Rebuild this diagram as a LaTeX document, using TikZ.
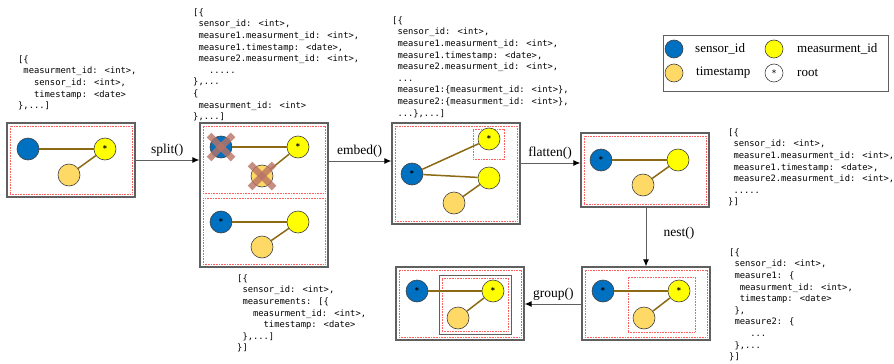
\documentclass[tikz,border=0pt]{standalone}
\usepackage{fontspec}
\setmainfont{Liberation Serif}
\newfontfamily\codefont{DejaVu Sans Mono}
\newfontfamily\starfont{DejaVu Sans}
\usetikzlibrary{arrows.meta}
\definecolor{sblue}{HTML}{0070C0}
\definecolor{myellow}{HTML}{FFFF00}
\definecolor{tsorange}{HTML}{FFD966}
\definecolor{edgebrown}{HTML}{8C6A14}
\definecolor{boxgray}{HTML}{606060}
\definecolor{crosscol}{RGB}{185,115,100}
\definecolor{dotred}{RGB}{255,95,95}
\newcommand{\ind}[1]{\hspace*{\dimexpr #1\fontcharwd\font`x\relax}}
\tikzset{
  x=1pt, y=-1pt,
  vtx/.style={circle, draw=black!75, line width=0.6pt, minimum size=22pt, inner sep=0pt,
              font=\starfont\bfseries\fontsize{8}{8}\selectfont},
  sen/.style={vtx, fill=sblue},
  mea/.style={vtx, fill=myellow},
  tst/.style={vtx, fill=tsorange},
  lgd/.style={circle, draw=black!75, line width=0.6pt, minimum size=18pt, inner sep=0pt,
              font=\starfont\fontsize{9}{9}\selectfont},
  outerbox/.style={draw=boxgray, line width=1.2pt, inner sep=0pt},
  reddot/.style={draw=dotred, dash pattern=on 0.8pt off 0.8pt, line width=1pt, inner sep=0pt},
  link/.style={draw=edgebrown, line width=1.5pt},
  flow/.style={draw=boxgray, line width=1pt, -{Latex[length=7pt,width=6pt,black]}},
  oplabel/.style={font=\fontsize{13.5}{13.5}\selectfont, inner sep=1pt},
  lgdtext/.style={font=\fontsize{13}{13}\selectfont, anchor=west, inner sep=0pt},
  code/.style={font=\codefont\fontsize{8.8}{11.6}\selectfont, align=left, anchor=north west, inner sep=0pt},
  crossx/.style={draw=crosscol, opacity=0.8, line width=6.5pt},
}
\begin{document}
\begin{tikzpicture}
\useasboundingbox (0,0) rectangle (894,364);

% ---------- Box 1 ----------
\node[outerbox, minimum width=128pt, minimum height=74pt] (b1) at (71,160) {};
\node[reddot, minimum width=122pt, minimum height=68pt] (r1) at (71,160) {};
\node[sen] (s1) at (28,149) {};
\node[mea] (m1) at (105,149) {*};
\node[tst] (t1) at (69,175) {};
\draw[link] (s1) -- (m1);
\draw[link] (t1) -- (m1);

% ---------- Box 2 ----------
\node[outerbox, minimum width=128pt, minimum height=144pt] (b2) at (264,195) {};
\node[reddot, minimum width=122pt, minimum height=67pt] (r2a) at (264,159.5) {};
\node[reddot, minimum width=122pt, minimum height=66pt] (r2b) at (264,231) {};
\node[sen] (s2a) at (221,147) {};
\node[mea] (m2a) at (298,147) {*};
\node[tst] (t2a) at (262,176) {};
\draw[link] (s2a) -- (m2a);
\draw[link] (t2a) -- (m2a);
\draw[crossx] ([shift={(-12,-12)}]s2a.center) -- ([shift={(12,12)}]s2a.center);
\draw[crossx] ([shift={(-12,12)}]s2a.center) -- ([shift={(12,-12)}]s2a.center);
\draw[crossx] ([shift={(-12,-12)}]t2a.center) -- ([shift={(12,12)}]t2a.center);
\draw[crossx] ([shift={(-12,12)}]t2a.center) -- ([shift={(12,-12)}]t2a.center);
\node[sen] (s2b) at (221,222) {*};
\node[mea] (m2b) at (298,222) {};
\node[tst] (t2b) at (262,247) {};
\draw[link] (s2b) -- (m2b);
\draw[link] (t2b) -- (m2b);

% ---------- Box 3 ----------
\node[outerbox, minimum width=128pt, minimum height=101pt] (b3) at (456,173.5) {};
\node[reddot, minimum width=122pt, minimum height=95pt] (r3) at (456,173.5) {};
\node[reddot, minimum width=31pt, minimum height=30pt] (r3s) at (488.5,144) {};
\node[mea] (m3a) at (489,139) {*};
\node[sen] (s3) at (412,174) {*};
\node[mea] (m3b) at (489,178) {};
\node[tst] (t3) at (454,203) {};
\draw[link] (s3) -- (m3a);
\draw[link] (s3) -- (m3b);
\draw[link] (t3) -- (m3b);

% ---------- Box 4 ----------
\node[outerbox, minimum width=128pt, minimum height=74pt] (b4) at (645,170) {};
\node[reddot, minimum width=122pt, minimum height=68pt] (r4) at (645,170) {};
\node[sen] (s4) at (601,160) {*};
\node[mea] (m4) at (678,160) {};
\node[tst] (t4) at (643,185) {};
\draw[link] (s4) -- (m4);
\draw[link] (t4) -- (m4);

% ---------- Box 5 ----------
\node[outerbox, minimum width=128pt, minimum height=73pt] (b5) at (646,303.5) {};
\node[reddot, minimum width=122pt, minimum height=67pt] (r5) at (646,303.5) {};
\node[reddot, minimum width=67pt, minimum height=55pt] (r5i) at (661.5,304.5) {};
\node[sen] (s5) at (603,291) {*};
\node[mea] (m5) at (679,291) {*};
\node[tst] (t5) at (644,318) {};
\draw[link] (s5) -- (m5);
\draw[link] (t5) -- (m5);

% ---------- Box 6 ----------
\node[outerbox, minimum width=128pt, minimum height=73pt] (b6) at (460,303.5) {};
\node[reddot, minimum width=122pt, minimum height=67pt] (r6) at (460,303.5) {};
\node[outerbox, line width=1pt, minimum width=72pt, minimum height=59pt] (g6) at (475,304.5) {};
\node[reddot, minimum width=66pt, minimum height=53pt] (r6i) at (475,304.5) {};
\node[sen] (s6) at (417,291) {*};
\node[mea] (m6) at (493,291) {*};
\node[tst] (t6) at (458,318) {};
\draw[link] (s6) -- (m6);
\draw[link] (t6) -- (m6);

% ---------- Arrows ----------
\coordinate (a1) at (135,160);
\coordinate (a2) at (328,161);
\coordinate (a3) at (520,163);
\coordinate (a4) at (646,207);
\coordinate (a5) at (582,304);
\draw[flow] (a1) -- (a1 -| b2.west) node[oplabel, midway, above=2pt] (lsplit) {split()};
\draw[flow] (a2) -- (a2 -| b3.west) node[oplabel, midway, above=2pt] (lembed) {embed()};
\draw[flow] (a3) -- (a3 -| b4.west) node[oplabel, midway, above=2pt] (lflatten) {flatten()};
\draw[flow] (a4) -- (a4 |- b5.north);
\node[oplabel] (lnest) at (679,233) {nest()};
\draw[flow] (a5) -- (a5 -| b6.east) node[oplabel, midway, above=2pt] (lgroup) {group()};

% ---------- Legend ----------
\node[draw=boxgray, line width=1pt, minimum width=225pt, minimum height=56pt, inner sep=0pt] (leg) at (775.5,63) {};
\node[lgd, fill=sblue] (lg1) at (674,49) {};
\node[lgdtext] (lt1) at (695,49) {sensor\_id};
\node[lgd, fill=myellow] (lg2) at (774,49) {};
\node[lgdtext] (lt2) at (797,49) {measurment\_id};
\node[lgd, fill=tsorange] (lg3) at (674,73) {};
\node[lgdtext] (lt3) at (696,73) {timestamp};
\node[lgd, fill=white] (lg4) at (774,73) {*};
\node[lgdtext] (lt4) at (797,73) {root};

% ---------- Code texts ----------
\node[code] (c1) at (18,55.5) {%
[\{\\
\ind1measurment\_id: <int>,\\
\ind3sensor\_id: <int>,\\
\ind3timestamp: <date>\\
\},...]};

\node[code] (c2) at (193,8.5) {%
[\{\\
\ind1sensor\_id: <int>,\\
\ind1measure1.measurment\_id: <int>,\\
\ind1measure1.timestamp: <date>,\\
\ind1measure2.measurment\_id: <int>,\\
\ind3.....\\
\},...\\
\{\\
\ind1measurment\_id: <int>\\
\},...]};

\node[code] (c3) at (392,16.5) {%
[\{\\
\ind1sensor\_id: <int>,\\
\ind1measure1.measurment\_id: <int>,\\
\ind1measure1.timestamp: <date>,\\
\ind1measure2.measurment\_id: <int>,\\
\ind1...\\
\ind1measure1:\{measurment\_id: <int>\},\\
\ind1measure2:\{measurment\_id: <int>\},\\
\ind1...\},...]};

\node[code] (c4) at (728,128.5) {%
[\{\\
\ind1sensor\_id: <int>,\\
\ind1measure1.measurment\_id: <int>,\\
\ind1measure1.timestamp: <date>,\\
\ind1measure2.measurment\_id: <int>,\\
\ind1.....\\
\}]};

\node[code] (c5) at (237,274.5) {%
[\{\\
\ind1sensor\_id: <int>,\\
\ind1measurements: [\{\\
\ind3measurment\_id: <int>,\\
\ind5timestamp: <date>\\
\ind1\},...]\\
\}]};

\node[code] (c6) at (729,248.5) {%
[\{\\
\ind1sensor\_id: <int>,\\
\ind1measure1: \{\\
\ind2measurment\_id: <int>,\\
\ind2timestamp: <date>\\
\ind1\},\\
\ind1measure2: \{\\
\ind4...\\
\ind1\},...\\
\}]};
\end{tikzpicture}
\end{document}
